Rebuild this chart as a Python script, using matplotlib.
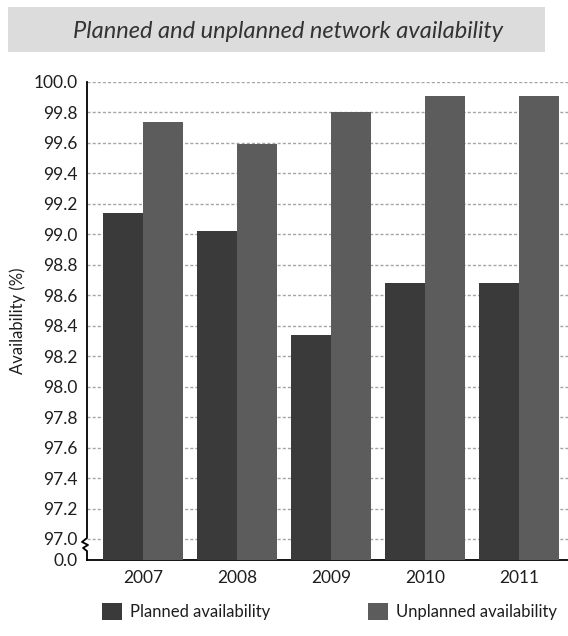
import numpy as np
import matplotlib.pyplot as plt
from matplotlib.patches import Rectangle
from matplotlib.lines import Line2D

plt.rcParams['font.family'] = ['Lato', 'DejaVu Sans']

# availability per year, in percent
years = ['2007', '2008', '2009', '2010', '2011']
planned = [99.14, 99.02, 98.34, 98.68, 98.68]
unplanned = [99.74, 99.59, 99.80, 99.91, 99.91]

# broken axis: values are drawn relative to 97.0, with a short stub down to 0.0
base = 97.0
stub = 0.138
tick_vals = np.round(np.arange(97.0, 100.01, 0.2), 1)

c_planned = '#3a3a3a'
c_unplanned = '#5c5c5c'
txt = '#1e1e1e'

fig = plt.figure(figsize=(5.68, 6.36), dpi=100)
ax = fig.add_axes([87/568, 76/636, 481/568, 478/636])

# title band
fig.patches.append(Rectangle((8/568, 1 - 52/636), 537/568, 45/636,
                             transform=fig.transFigure, facecolor='#dcdcdc',
                             edgecolor='none', zorder=0))
fig.text(288/568, 1 - 31/636, 'Planned and unplanned network availability',
         ha='center', va='center', fontsize=17, style='italic', color='#333333')

x = np.arange(len(years))
w = 0.4255
bottom = -stub
ax.bar(x - w/2, np.array(planned) - base - bottom, w, bottom=bottom,
       color=c_planned, zorder=3, label='Planned availability')
ax.bar(x + w/2, np.array(unplanned) - base - bottom, w, bottom=bottom,
       color=c_unplanned, zorder=3, label='Unplanned availability')

ax.set_xlim(-0.596, 4.52)
ax.set_ylim(-stub, 3.0)

for v in tick_vals:
    ax.axhline(v - base, color='#a5a5a5', lw=1.0, ls=(0, (2.2, 1.5)), zorder=1)

ax.set_yticks([-stub] + list(tick_vals - base))
ax.set_yticklabels(['0.0'] + ['%.1f' % v for v in tick_vals])
ax.set_xticks(x)
ax.set_xticklabels(years)
ax.tick_params(axis='both', length=0, labelsize=12.5, colors=txt)
ax.tick_params(axis='y', pad=7)
ax.tick_params(axis='x', pad=7)
ax.set_ylabel('Availability (%)', fontsize=12, color=txt, labelpad=5)

for s in ['top', 'right', 'left']:
    ax.spines[s].set_visible(False)
ax.spines['bottom'].set_linewidth(1.3)
ax.spines['bottom'].set_color('black')

# left axis line with a zigzag break between 0.0 and 97.0
px = 1 / 481
py = 1 / 152.3
zx = [0, 0, -5*px, 1*px, -4*px, 0, 0]
zy = [3.0, 1*py, -3*py, -6*py, -9*py, -12*py, -stub]
ax.add_line(Line2D(zx, zy, transform=ax.get_yaxis_transform(), color='black',
                   lw=1.3, clip_on=False, zorder=4))

fig.legend(loc='lower left', bbox_to_anchor=(102/568, 16/636), ncol=2,
           frameon=False, fontsize=12, handlelength=1.2, handleheight=1.2,
           handletextpad=0.45, columnspacing=5.9, borderpad=0, borderaxespad=0,
           labelcolor=txt)

fig.savefig('out.png', dpi=100)
